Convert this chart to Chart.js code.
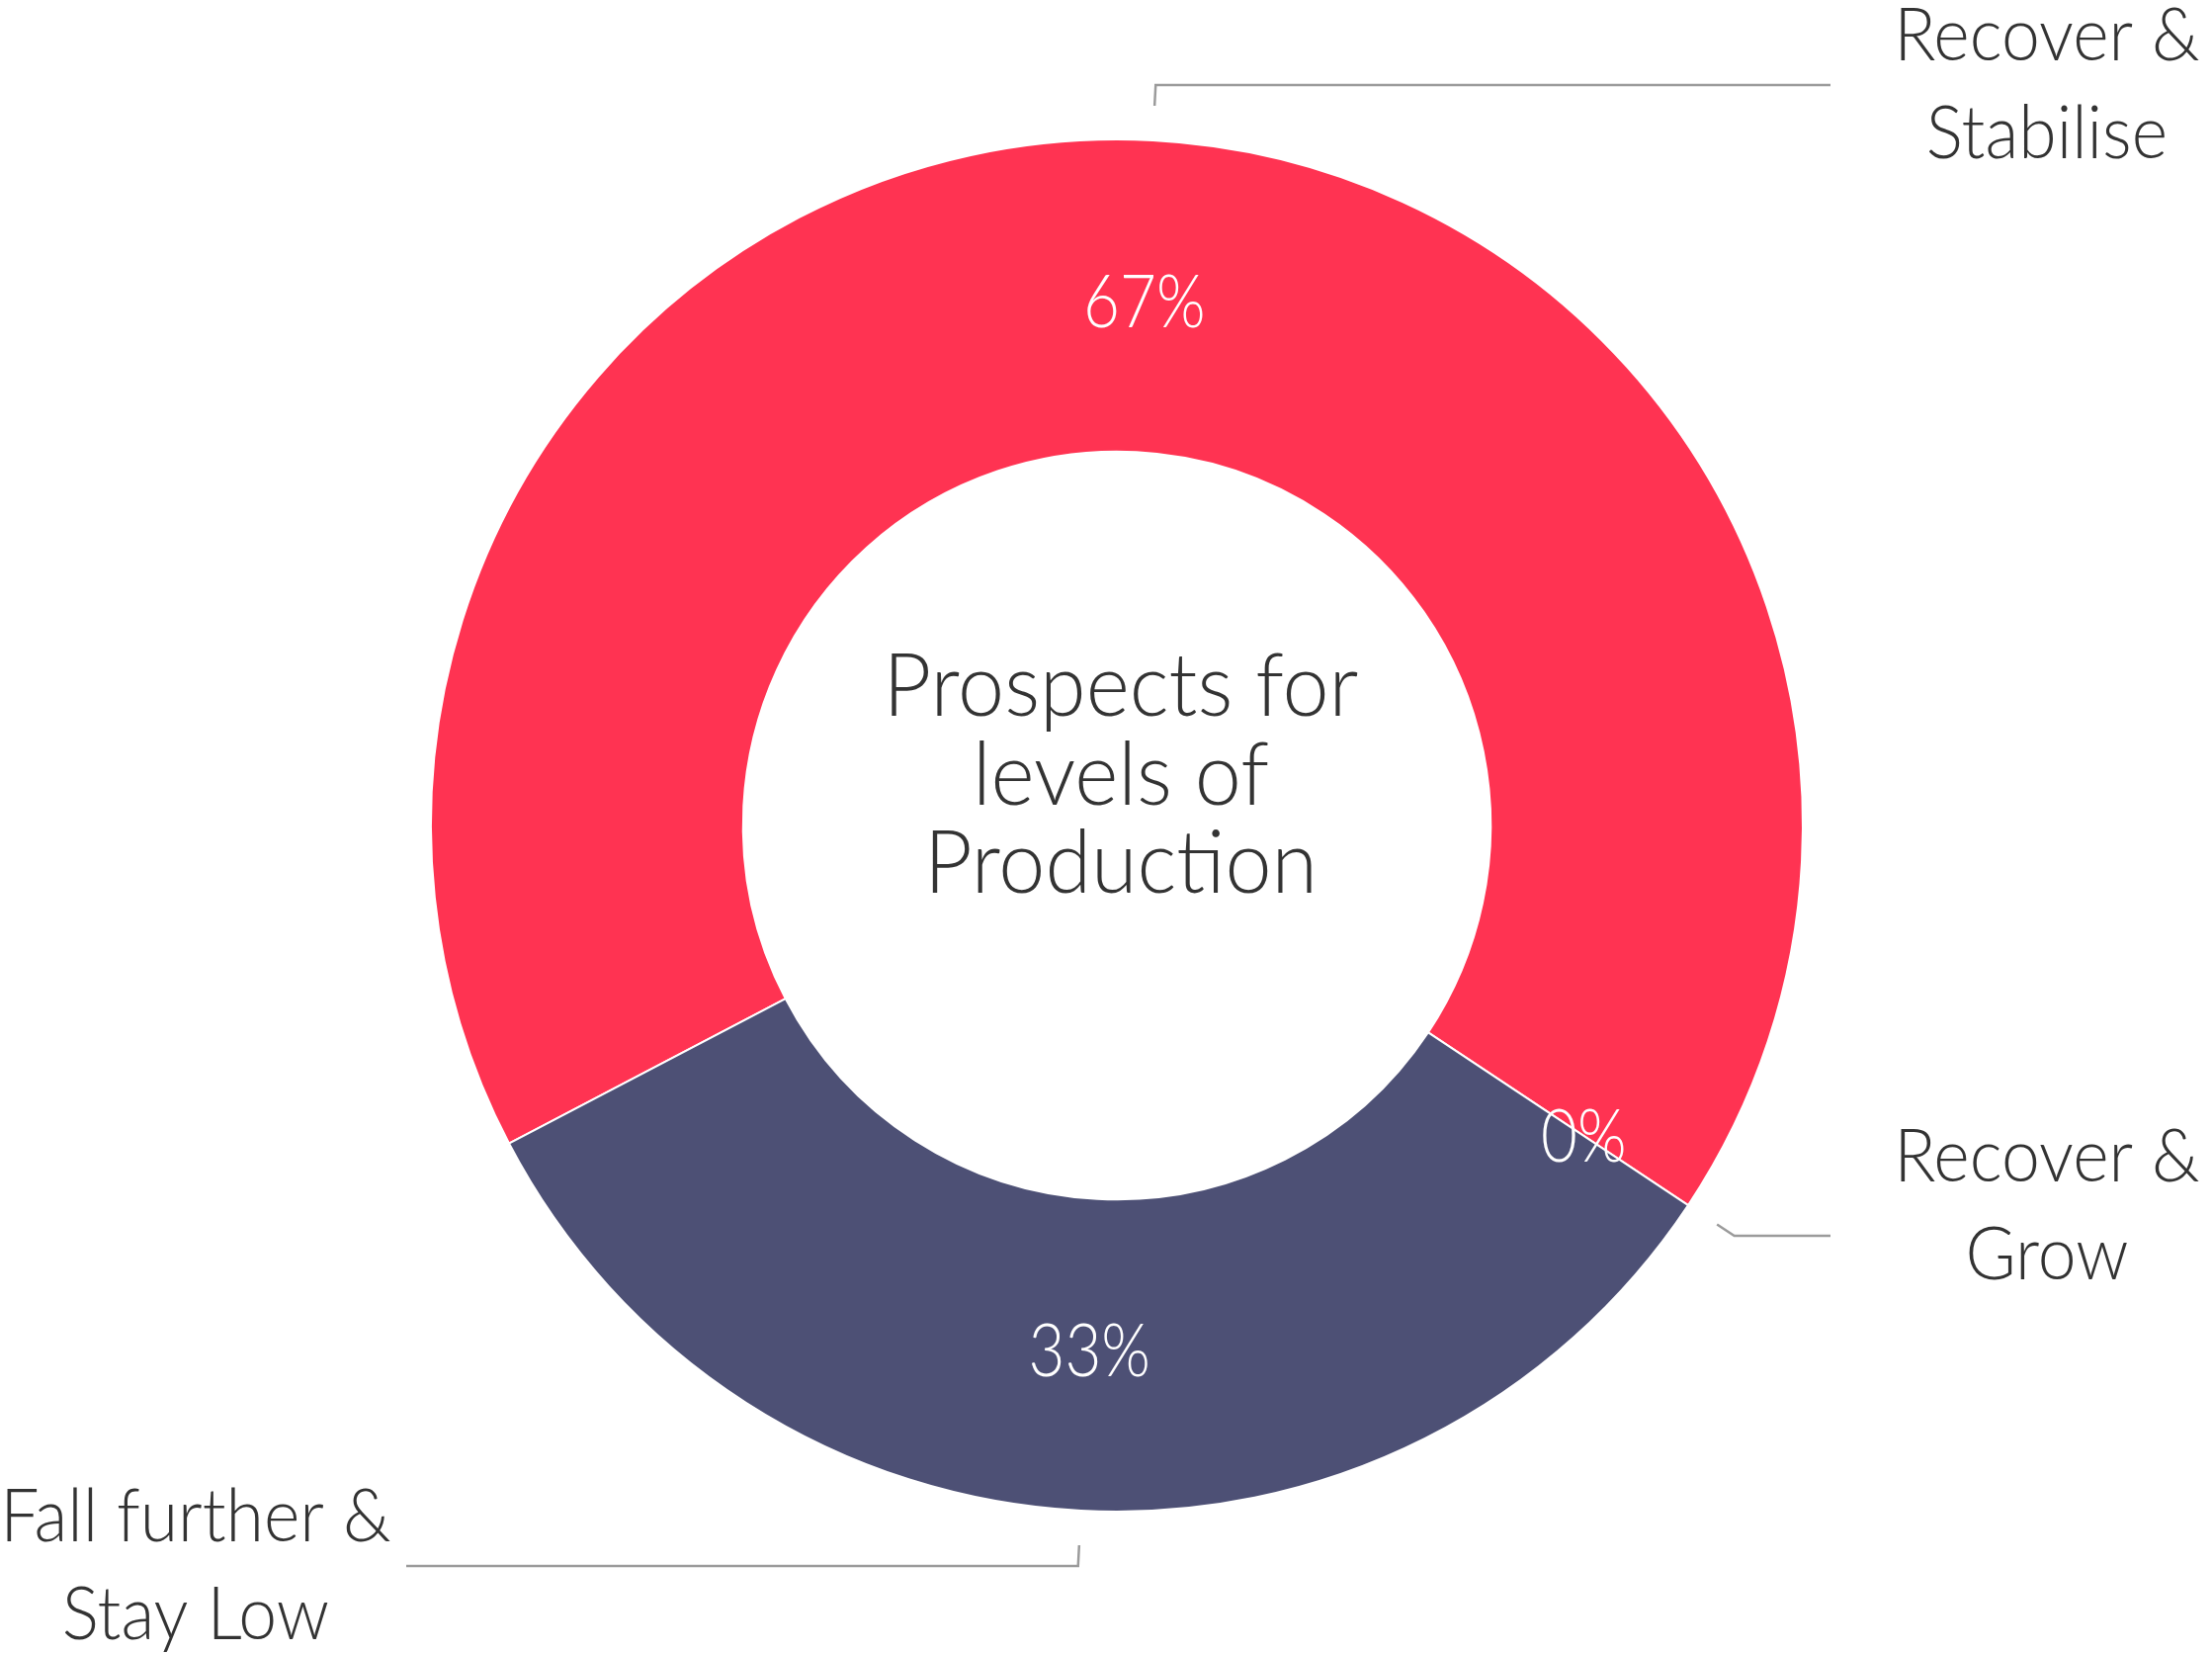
<!DOCTYPE html>
<html>
<head>
<meta charset="utf-8">
<script src="https://cdn.jsdelivr.net/npm/chart.js@4.4.0/dist/chart.umd.min.js"></script>
<style>
    html, body { margin: 0; padding: 0; background: #ffffff; }
    #wrap { width: 2238px; height: 1672px; position: relative; }
</style>
</head>
<body>
<div id="wrap"><canvas id="prospectsChart"></canvas></div>
<script>
// Данные диаграммы
const categories = [
    ['Recover &', 'Stabilise'],
    ['Recover &', 'Grow'],
    ['Fall further &', 'Stay Low']
];
const shares = [67, 0, 33];
const centerTitle = ['Prospects for', 'levels of', 'Production'];

const sliceColors = ['#FF3352', '#FF3352', '#4D5075'];
const textFont = 'Lato, "Noto Sans", sans-serif';

// Текст со сжатием по горизонтали (шрифт в оригинале уже)
function drawText(ctx, text, x, y, sx) {
    ctx.save();
    ctx.translate(x, y);
    ctx.scale(sx, 1);
    ctx.fillText(text, 0, 0);
    ctx.restore();
}

// Подписи, выноски и текст в центре
const labelsPlugin = {
    id: 'doughnutLabels',
    afterDatasetsDraw(chart, args, opts) {
        const ctx = chart.ctx;
        const meta = chart.getDatasetMeta(0);

        meta.data.forEach((arc, i) => {
            const p = arc.getProps(['x', 'y', 'startAngle', 'endAngle', 'innerRadius', 'outerRadius'], true);
            const mid = (p.startAngle + p.endAngle) / 2;
            const cos = Math.cos(mid), sin = Math.sin(mid);

            // процент внутри сегмента
            let rText = (p.innerRadius + p.outerRadius) / 2 - 5;
            if (shares[i] === 0) rText += opts.zeroOut;
            ctx.save();
            ctx.fillStyle = '#ffffff';
            ctx.font = '300 ' + opts.pctSize + 'px ' + textFont;
            ctx.textAlign = 'center';
            ctx.textBaseline = 'alphabetic';
            drawText(ctx, shares[i] + '%', p.x + cos * rText, p.y + sin * rText + opts.pctSize * 0.36, 0.86);
            ctx.restore();

            // выноска
            const r1 = p.outerRadius + 35, r2 = p.outerRadius + 56;
            const x1 = p.x + cos * r1, y1 = p.y + sin * r1;
            const x2 = p.x + cos * r2, y2 = p.y + sin * r2;
            const right = cos >= 0;
            const x3 = right ? opts.lineEndRight : opts.lineEndLeft;
            ctx.save();
            ctx.strokeStyle = '#9b9b9b';
            ctx.lineWidth = 2.5;
            ctx.beginPath();
            ctx.moveTo(x1, y1);
            ctx.lineTo(x2, y2);
            ctx.lineTo(x3, y2);
            ctx.stroke();
            ctx.restore();

            // название категории
            const tx = right ? opts.textRight : opts.textLeft;
            const shift = (opts.shift && opts.shift[i]) || 0;
            ctx.save();
            ctx.fillStyle = '#333333';
            ctx.font = '300 ' + opts.labelSize + 'px ' + textFont;
            ctx.textAlign = 'center';
            ctx.textBaseline = 'alphabetic';
            categories[i].forEach((line, k) => {
                drawText(ctx, line, tx, y2 - 25 + shift + k * 99, 0.93);
            });
            ctx.restore();
        });

        // заголовок в центре
        const c = meta.data[0];
        ctx.save();
        ctx.fillStyle = '#333333';
        ctx.font = '300 ' + opts.centerSize + 'px ' + textFont;
        ctx.textAlign = 'center';
        ctx.textBaseline = 'alphabetic';
        centerTitle.forEach((line, k) => {
            drawText(ctx, line, c.x + 4, c.y - 111 + k * 89.5, 0.96);
        });
        ctx.restore();
    }
};

const ctx = document.getElementById('prospectsChart').getContext('2d');
new Chart(ctx, {
    type: 'doughnut',
    data: {
        labels: categories.map(l => l.join(' ')),
        datasets: [{
            data: shares,
            backgroundColor: sliceColors,
            borderColor: '#ffffff',
            borderWidth: 2,
            hoverOffset: 0
        }]
    },
    options: {
        responsive: true,
        maintainAspectRatio: false,
        animation: false,
        rotation: 242.4,
        cutout: '54.5%',
        layout: {
            padding: { top: 140, bottom: 142, left: 435, right: 413 }
        },
        plugins: {
            legend: { display: false },
            tooltip: { enabled: false },
            doughnutLabels: {
                pctSize: 74,
                labelSize: 75,
                centerSize: 88,
                zeroOut: 36,
                lineEndRight: 1852,
                lineEndLeft: 411,
                textRight: 2071,
                textLeft: 198,
                shift: { 1: -30 }
            }
        }
    },
    plugins: [labelsPlugin]
});
</script>
</body>
</html>
